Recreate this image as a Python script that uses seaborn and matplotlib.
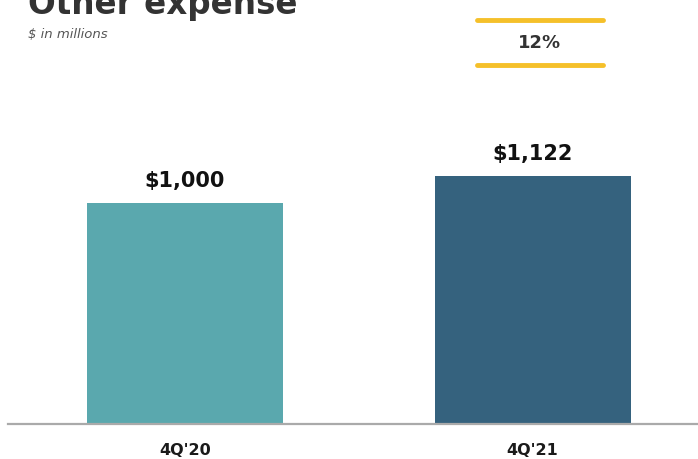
import matplotlib
matplotlib.use("Agg")
import matplotlib.pyplot as plt
import seaborn as sns
import pandas as pd
from matplotlib.lines import Line2D

categories = ["4Q'20", "4Q'21"]
values = [1000, 1122]
value_labels = ["$1,000", "$1,122"]
bar_colors = ["#5AA8AE", "#35627E"]
title = "Other expense"
subtitle = "$ in millions"
change_label = "12%"

sns.set_theme(style="white")
plt.rcParams['font.family'] = ['DejaVu Sans']

W, H = 698, 459
fig = plt.figure(figsize=(W / 100, H / 100), dpi=100)
ax = fig.add_axes([8 / W, (H - 424) / H, (W - 8) / W, 424 / H])

df = pd.DataFrame({"cat": categories, "val": values})
sns.barplot(data=df, x="cat", y="val", hue="cat", palette=bar_colors,
            width=0.564, legend=False, ax=ax, saturation=1, linewidth=0)

ax.set_xlim(-0.509, 1.476)
ax.set_ylim(0, 424 / 0.221)
for s in ["top", "right", "left"]:
    ax.spines[s].set_visible(False)
ax.spines["bottom"].set_color("#AAAAAA")
ax.spines["bottom"].set_linewidth(1.6)
ax.set_yticks([])
ax.set_xlabel("")
ax.set_ylabel("")
ax.tick_params(axis="x", length=0, pad=14, labelsize=11.5, labelcolor="#1a1a1a")
for t in ax.get_xticklabels():
    t.set_fontweight("bold")

for i, (v, lab) in enumerate(zip(values, value_labels)):
    ax.text(i, v + 55, lab, ha="center", va="bottom", fontsize=15,
            fontweight="bold", color="#111111")

fig.text(28 / W, 1 - 14 / H, title, ha="left", va="baseline", fontsize=23.5,
         fontweight="bold", color="#333333")
fig.text(28 / W, 1 - 34 / H, subtitle, ha="left", va="center", fontsize=9.5,
         style="italic", color="#555555")

for yy in [20, 65]:
    fig.add_artist(Line2D([477 / W, 603 / W], [1 - yy / H, 1 - yy / H],
                          color="#F5C02A", linewidth=3.5))
fig.text(540 / W, 1 - 43 / H, change_label, ha="center", va="center",
         fontsize=13, fontweight="bold", color="#333333")

fig.savefig("out.png", dpi=100)
